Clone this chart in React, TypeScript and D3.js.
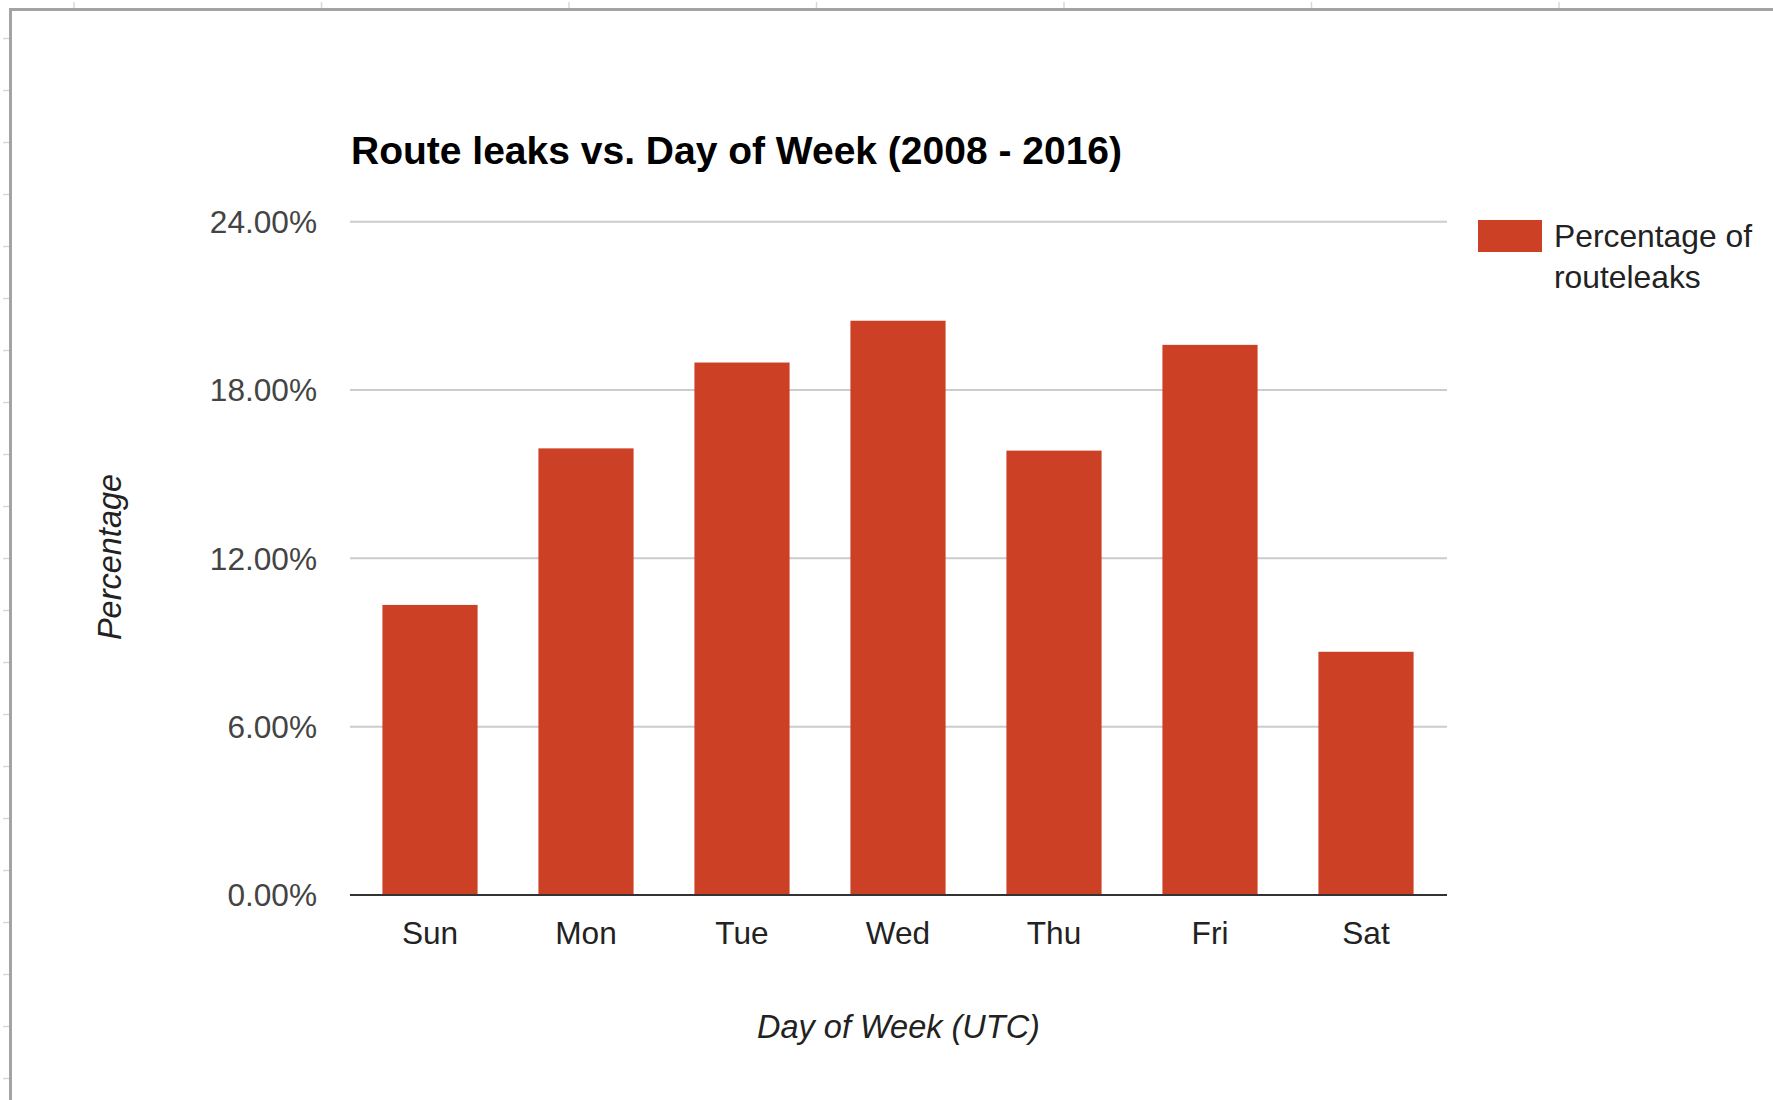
import React, { useRef, useEffect } from 'react'
import * as d3 from 'd3'

// data
const days = ['Sun', 'Mon', 'Tue', 'Wed', 'Thu', 'Fri', 'Sat']
const leakShare = [0.1034, 0.1592, 0.1898, 0.2047, 0.1584, 0.1961, 0.0867]
const yTicks = [0, 0.06, 0.12, 0.18, 0.24]
const seriesName = ['Percentage of', 'routeleaks']

export default function App() {
  const svgRef = useRef<SVGSVGElement>(null)

  useEffect(() => {
    if (!svgRef.current) return

    const svg = d3.select(svgRef.current)
    const width = 1773
    const height = 1100
    const font = '"Liberation Sans", Arial, Helvetica, sans-serif'
    const barColor = '#cc4125'

    svg.selectAll('*').remove()

    // plot area
    const left = 350
    const right = 1447
    const top = 221.7
    const bottom = 895

    const x = d3.scaleBand<string>()
      .domain(days)
      .range([352, 1444])
      .paddingInner(0.39)
      .paddingOuter(0.195)

    const y = d3.scaleLinear()
      .domain([0, 0.24])
      .range([bottom, top])

    const pct = d3.format('.2%')

    // spreadsheet frame behind the chart
    const frame = svg.append('g')
    frame.selectAll('.col-tick')
      .data(d3.range(0, 8))
      .enter().append('line')
      .attr('x1', i => 74 + i * 247.5)
      .attr('x2', i => 74 + i * 247.5)
      .attr('y1', 2)
      .attr('y2', 8)
      .attr('stroke', '#d8d8d8')
      .attr('stroke-width', 1.5)
    frame.selectAll('.row-tick')
      .data(d3.range(0, 21))
      .enter().append('line')
      .attr('x1', 3)
      .attr('x2', 9)
      .attr('y1', i => 38.5 + i * 52)
      .attr('y2', i => 38.5 + i * 52)
      .attr('stroke', '#d8d8d8')
      .attr('stroke-width', 1.5)
    frame.append('line')
      .attr('x1', 9).attr('x2', width)
      .attr('y1', 9.5).attr('y2', 9.5)
      .attr('stroke', '#a3a3a3')
      .attr('stroke-width', 3)
    frame.append('line')
      .attr('x1', 10.5).attr('x2', 10.5)
      .attr('y1', 8).attr('y2', height)
      .attr('stroke', '#a3a3a3')
      .attr('stroke-width', 3)

    // title
    svg.append('text')
      .attr('x', 351)
      .attr('y', 164)
      .attr('font-family', font)
      .attr('font-size', 39)
      .attr('font-weight', 'bold')
      .attr('fill', '#000')
      .text('Route leaks vs. Day of Week (2008 - 2016)')

    // gridlines
    svg.append('g')
      .selectAll('line')
      .data(yTicks.filter(t => t > 0))
      .enter().append('line')
      .attr('x1', left)
      .attr('x2', right)
      .attr('y1', d => y(d))
      .attr('y2', d => y(d))
      .attr('stroke', '#cccccc')
      .attr('stroke-width', 2)

    // y tick labels
    svg.append('g')
      .selectAll('text')
      .data(yTicks)
      .enter().append('text')
      .attr('x', 317)
      .attr('y', d => y(d))
      .attr('dy', '0.36em')
      .attr('text-anchor', 'end')
      .attr('font-family', font)
      .attr('font-size', 31.6)
      .attr('fill', '#444')
      .text(d => pct(d))

    // bars
    svg.append('g')
      .selectAll('rect')
      .data(leakShare)
      .enter().append('rect')
      .attr('x', (d, i) => x(days[i])!)
      .attr('y', d => y(d))
      .attr('width', x.bandwidth())
      .attr('height', d => y(0) - y(d))
      .attr('fill', barColor)

    // baseline
    svg.append('line')
      .attr('x1', left)
      .attr('x2', right)
      .attr('y1', y(0))
      .attr('y2', y(0))
      .attr('stroke', '#333')
      .attr('stroke-width', 2)

    // day labels
    svg.append('g')
      .selectAll('text')
      .data(days)
      .enter().append('text')
      .attr('x', d => x(d)! + x.bandwidth() / 2)
      .attr('y', 944)
      .attr('text-anchor', 'middle')
      .attr('font-family', font)
      .attr('font-size', 31.6)
      .attr('fill', '#222')
      .text(d => d)

    // axis titles
    svg.append('text')
      .attr('x', (left + right) / 2)
      .attr('y', 1038)
      .attr('text-anchor', 'middle')
      .attr('font-family', font)
      .attr('font-size', 32.5)
      .attr('font-style', 'italic')
      .attr('fill', '#222')
      .text('Day of Week (UTC)')

    svg.append('text')
      .attr('transform', 'translate(121,557) rotate(-90)')
      .attr('text-anchor', 'middle')
      .attr('font-family', font)
      .attr('font-size', 32.5)
      .attr('font-style', 'italic')
      .attr('fill', '#222')
      .text('Percentage')

    // legend
    const legend = svg.append('g')
    legend.append('rect')
      .attr('x', 1478)
      .attr('y', 220)
      .attr('width', 64)
      .attr('height', 32)
      .attr('fill', barColor)
    legend.selectAll('text')
      .data(seriesName)
      .enter().append('text')
      .attr('x', 1554)
      .attr('y', (d, i) => 247 + i * 41)
      .attr('font-family', font)
      .attr('font-size', 31.8)
      .attr('fill', '#222')
      .text(d => d)
  }, [])

  return (
    <div style={{ position: 'fixed', left: 0, top: 0, background: '#fff' }}>
      <svg ref={svgRef} width={1773} height={1100} style={{ display: 'block' }} />
    </div>
  )
}
